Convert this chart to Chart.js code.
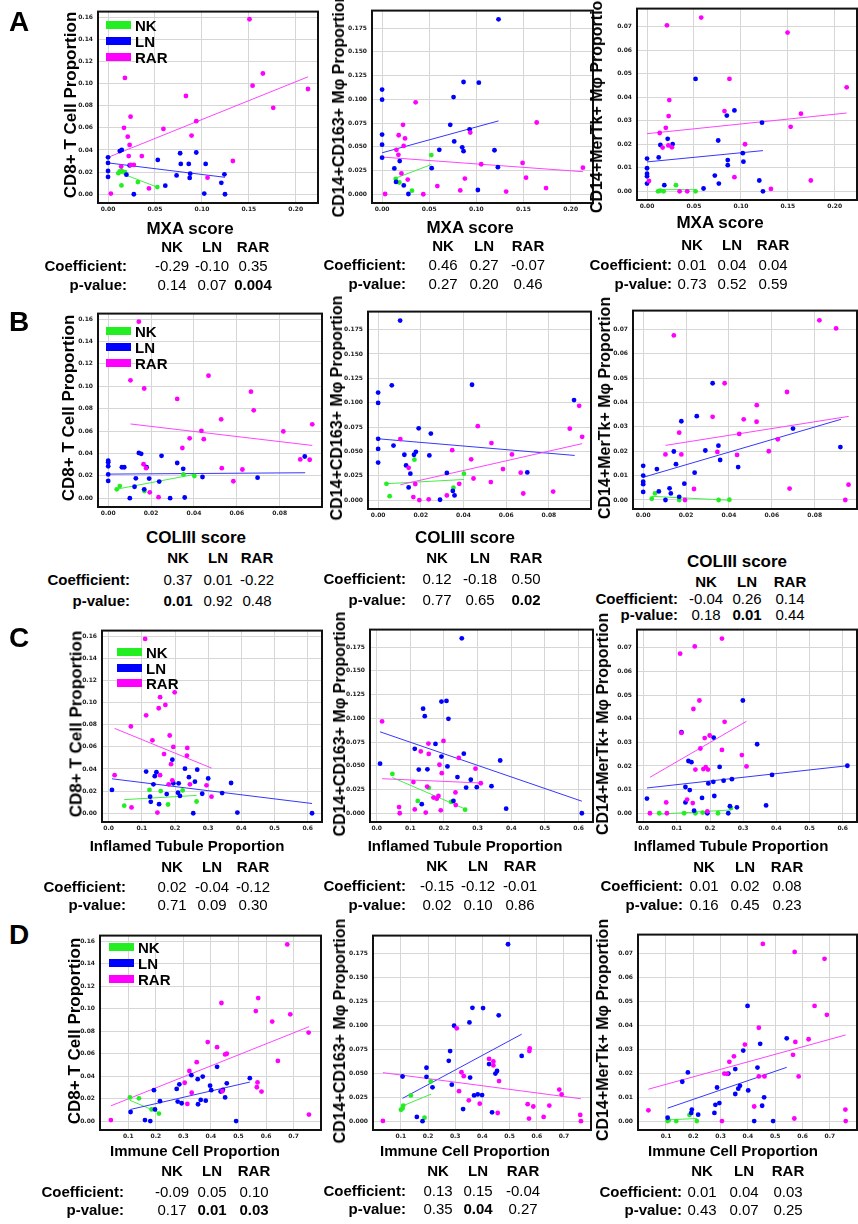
<!DOCTYPE html>
<html><head><meta charset="utf-8">
<script src="https://cdn.jsdelivr.net/npm/chart.js@4.4.1/dist/chart.umd.min.js"></script>
<style>
html,body{margin:0;padding:0;background:#fff;}
#page{position:relative;width:858px;height:1224px;overflow:hidden;background:#fff;font-family:"Liberation Sans",Arial,sans-serif;color:#000;}
canvas{position:absolute;}
.t{position:absolute;white-space:nowrap;line-height:1;}
</style></head><body><div id="page"></div>
<script>
// ---------- tick labels ----------
const xTicksA = ['0.00','0.05','0.10','0.15','0.20'];
const xTicksB = ['0.00','0.02','0.04','0.06','0.08'];
const xTicksC = ['0.0','0.1','0.2','0.3','0.4','0.5','0.6'];
const xTicksD = ['0.1','0.2','0.3','0.4','0.5','0.6','0.7'];
const yTicks1 = ['0.00','0.02','0.04','0.06','0.08','0.10','0.12','0.14','0.16'];
const yTicks2 = ['0.000','0.025','0.050','0.075','0.100','0.125','0.150','0.175'];
const yTicks3 = ['0.00','0.01','0.02','0.03','0.04','0.05','0.06','0.07'];
const groups = ['NK','LN','RAR'];

// ---------- row A : MXA score ----------
const A1_NK = [[0.0125,0.0206],[0.0146,0.021],[0.018,0.020],[0.011,0.019],[0.0143,0.008],[0.0318,0.011],[0.0525,0.0065]];
const A1_LN = [[0,0.0333],[0,0.0283],[0,0.021],[0,0.0156],[0.0125,0.039],[0.0146,0.040],[0.023,0.026],[0.0196,0.0177],[0.0275,0],[0.053,0.031],[0.061,0.0077],[0.0768,0.037],[0.0775,0.0274],[0.086,0.0274],[0.094,0.0377],[0.104,0.0274],[0.073,0.017],[0.0875,0.0186],[0.087,0.0147],[0.1025,0.0006],[0.1207,0.0103],[0.124,0.018],[0.1246,0]];
const A1_RAR = [[0.1507,0.158],[0.165,0.109],[0.154,0.098],[0.176,0.078],[0.018,0.105],[0.083,0.0887],[0.024,0.070],[0.017,0.060],[0.059,0.059],[0.094,0.066],[0.021,0.052],[0.089,0.053],[0.023,0.0445],[0.022,0.0345],[0.036,0.0345],[0.133,0.030],[0.014,0.025],[0.024,0.0265],[0.0275,0.0265],[0.106,0.015],[0.003,0.0006],[0.0436,0.0053],[0.213,0.095]];
const A1_fit = [[0.011,0.020,0.053,0.0062],[0,0.0283,0.1246,0.0153],[0,0.0333,0.213,0.106]];

const A2_NK = [[0.0145,0.0162],[0.0183,0.0124],[0.0317,0.0038],[0.0522,0.0413]];
const A2_LN = [[0.1235,0.1843],[0.0864,0.1183],[0.1026,0.1176],[0,0.1103],[0,0.0997],[0.0758,0.1024],[0.0723,0.0732],[0.0928,0.0684],[0,0.0629],[0,0.0523],[0.0765,0.0557],[0.085,0.0495],[0.0864,0.0454],[0.0607,0.0468],[0.1192,0.0464],[0,0.0385],[0.0187,0.035],[0.013,0.0272],[0.0526,0.0275],[0.1228,0.0285],[0.0148,0.013],[0.023,0.0093],[0.0279,0.0003],[0.1016,0.0045]];
const A2_RAR = [[0.0356,0.0969],[0.0222,0.0732],[0.164,0.0756],[0.0176,0.0622],[0.0243,0.0588],[0.0229,0.0509],[0.0152,0.0468],[0.0173,0.0416],[0.0935,0.065],[0.1051,0.0316],[0.149,0.033],[0.0205,0.022],[0.0272,0.0155],[0.1527,0.0175],[0.0878,0.0165],[0.0586,0.0086],[0.0829,0.0041],[0.1316,0.0028],[0.1739,0.0065],[0.0032,0.0003],[0.0437,0],[0.213,0.028]];
const A2_fit = [[0.0123,0.0162,0.0522,0.0313],[0,0.0437,0.1235,0.0773],[0,0.0392,0.213,0.0238]];

const A3_NK = [[0.0117,0],[0.0142,0.0003],[0.0177,0],[0.0308,0.0026],[0.0517,0]];
const A3_LN = [[0.0517,0.0478],[0.0931,0.0344],[0.085,0.0322],[0.1225,0.0292],[0.022,0.0223],[0.0273,0.0201],[0.0142,0.0197],[0.0758,0.0216],[0.0124,0.0144],[0,0.0139],[0,0.0098],[0,0.0075],[0,0.0064],[0,0.0033],[0.102,0.0162],[0.086,0.0133],[0.086,0.0111],[0.1027,0.0126],[0.0722,0.0067],[0.0765,0.0033],[0.1196,0.0046],[0.0184,0.0026],[0.0602,0.0012],[0.1235,0]];
const A3_RAR = [[0.0577,0.0739],[0.0212,0.0706],[0.1497,0.0675],[0.0878,0.0478],[0.2127,0.0442],[0.0237,0.0388],[0.0825,0.0341],[0.023,0.032],[0.164,0.033],[0.153,0.0274],[0.020,0.027],[0.0135,0.0248],[0.0166,0.0186],[0.0227,0.0195],[0.0265,0.0187],[0.1044,0.020],[0.0931,0.006],[0.1745,0.0046],[0.132,0.001],[0.002,0.0044],[0.0347,0],[0.0428,0]];
const A3_fit = [[0.0117,0.0007,0.0517,0.0007],[0,0.0125,0.1235,0.0173],[0,0.0245,0.2127,0.0333]];

// ---------- row B : COLIII score ----------
const B1_NK = [[0.004,0.0079],[0.0054,0.0108],[0.0169,0.0064],[0.0351,0.0212],[0.0402,0.0198]];
const B1_LN = [[0,0.0335],[0,0.032],[0,0.0285],[0,0.0212],[0,0.0154],[0.0064,0.0276],[0.0075,0.0276],[0.0143,0.0404],[0.0154,0.0396],[0.0179,0.0276],[0.0129,0.0177],[0.0191,0.0175],[0.0123,0.0102],[0.0168,0.0079],[0.0101,0],[0.0249,0.0378],[0.0322,0.0314],[0.035,0.0262],[0.0238,0.0148],[0.044,0.0189],[0.0289,0],[0.0357,0.0006],[0.0697,0.0183],[0.0917,0.0372]];
const B1_RAR = [[0.0143,0.1577],[0.0468,0.1094],[0.0104,0.1053],[0.0168,0.098],[0.0666,0.0951],[0.0322,0.0887],[0.0679,0.0785],[0.0527,0.0704],[0.0435,0.0602],[0.0817,0.0596],[0.0952,0.066],[0.038,0.0535],[0.0446,0.0527],[0.0346,0.0448],[0.0165,0.0303],[0.0177,0.0268],[0.053,0.0268],[0.0626,0.0256],[0.0896,0.0346],[0.094,0.0343],[0.0584,0.0151],[0.0194,0.0052],[0.0235,0.0009]];
const B1_fit = [[0.0036,0.0079,0.0402,0.0212],[0,0.0215,0.0919,0.0227],[0.0104,0.0663,0.0952,0.0471]];

const B2_NK = [[0.0039,0.0167],[0.0054,0.004],[0.017,0.0415],[0.0353,0.0127],[0.0402,0.0271]];
const B2_LN = [[0.0103,0.1843],[0.0064,0.1178],[0.044,0.1184],[0,0.1104],[0,0.0997],[0.019,0.0736],[0.0247,0.0682],[0,0.0629],[0.0072,0.0559],[0,0.0525],[0.0177,0.0495],[0.0168,0.0465],[0.0123,0.0465],[0.024,0.0458],[0,0.0385],[0.0131,0.0355],[0.0151,0.0271],[0.0322,0.0278],[0.0699,0.0284],[0.0143,0.013],[0.035,0.0094],[0.0358,0.0047],[0.029,0.0003],[0.0918,0.1027]];
const B2_RAR = [[0.0467,0.0759],[0.0104,0.0626],[0.0531,0.0585],[0.0898,0.0733],[0.0942,0.0967],[0.0956,0.0649],[0.0347,0.0512],[0.0436,0.0418],[0.0627,0.0468],[0.0585,0.0318],[0.0143,0.0331],[0.0447,0.0221],[0.0528,0.0184],[0.0668,0.0281],[0.0174,0.0164],[0.038,0.0167],[0.068,0.0067],[0.082,0.0087],[0.0165,0.003],[0.0193,0],[0.0237,0.0007],[0.0322,0.0047]];
const B2_fit = [[0.0031,0.0167,0.0402,0.0211],[0,0.0629,0.0921,0.0458],[0.0104,0.0157,0.0956,0.0579]];

const B3_NK = [[0.004,0.0005],[0.0055,0.0027],[0.0168,0],[0.0352,0],[0.0402,0.0001]];
const B3_LN = [[0.0324,0.0479],[0.025,0.0344],[0.0178,0.0323],[0.0699,0.0293],[0.0351,0.0223],[0.029,0.0203],[0.0143,0.0199],[0.092,0.0217],[0.0359,0.0164],[0.0153,0.0147],[0.0443,0.0135],[0,0.014],[0,0.01],[0,0.0075],[0,0.0065],[0,0.0033],[0.0064,0.0127],[0.024,0.0112],[0.0073,0.0035],[0.0123,0.0048],[0.0129,0.0027],[0.0192,0.0067],[0.0168,0.0013],[0.0104,0]];
const B3_RAR = [[0.0822,0.0737],[0.09,0.0704],[0.0143,0.0675],[0.038,0.0479],[0.0671,0.0443],[0.053,0.0389],[0.0324,0.0341],[0.0469,0.0331],[0.0529,0.0321],[0.0168,0.0276],[0.0448,0.0271],[0.0628,0.0249],[0.0104,0.0187],[0.0178,0.0187],[0.0346,0.0197],[0.0438,0.0185],[0.0586,0.02],[0.0237,0.0045],[0.0683,0.0047],[0.0958,0.0063],[0.0943,0],[0.0195,0]];
const B3_fit = [[0.004,0.0015,0.0402,-0.0001],[0,0.0093,0.0923,0.0331],[0.0104,0.0224,0.0959,0.0343]];

// ---------- row C : Inflamed Tubule Proportion ----------
const C1_NK = [[0.047,0.0068],[0.123,0.0211],[0.157,0.02],[0.179,0.0079],[0.223,0.0206],[0.265,0.0106]];
const C1_LN = [[0.192,0.0484],[0.113,0.0376],[0.144,0.037],[0.230,0.0402],[0.267,0.0393],[0.139,0.0335],[0.242,0.0326],[0.300,0.0314],[0.195,0.027],[0.211,0.027],[0.260,0.0285],[0.369,0.0273],[0.135,0.0261],[0.010,0.0211],[0.125,0.015],[0.175,0.0173],[0.209,0.0185],[0.215,0.0156],[0.282,0.0176],[0.342,0.0182],[0.127,0.0103],[0.152,0.0082],[0.255,0],[0.388,0.0006],[0.613,0]];
const C1_RAR = [[0.110,0.1574],[0.199,0.1092],[0.155,0.1048],[0.171,0.0978],[0.151,0.0948],[0.113,0.0884],[0.067,0.0784],[0.184,0.0702],[0.132,0.0658],[0.195,0.0599],[0.237,0.059],[0.236,0.052],[0.167,0.0534],[0.188,0.0443],[0.018,0.0344],[0.155,0.0344],[0.192,0.0297],[0.181,0.0261],[0.245,0.0261],[0.295,0.0252],[0.310,0.015],[0.069,0.0053],[0.147,0.0006]];
const C1_fit = [[0.047,0.0123,0.265,0.0161],[0.010,0.0311,0.613,0.0088],[0.018,0.0766,0.310,0.0408]];

const C2_NK = [[0.0466,0.0415],[0.1547,0.0268],[0.122,0.013],[0.2212,0.012],[0.2628,0.0038]];
const C2_LN = [[0.2529,0.1843],[0.1924,0.1177],[0.2073,0.1184],[0.1379,0.1102],[0.1428,0.1023],[0.2132,0.0995],[0.1131,0.0679],[0.1746,0.0731],[0.2589,0.0628],[0.1924,0.0597],[0.367,0.0556],[0.0099,0.0522],[0.2103,0.0494],[0.125,0.046],[0.1507,0.0463],[0.24,0.0381],[0.2797,0.0353],[0.2658,0.0271],[0.2975,0.0275],[0.3412,0.0285],[0.2281,0.013],[0.1339,0.0096],[0.3848,0.0048],[0.6099,0]];
const C2_RAR = [[0.0159,0.0968],[0.1984,0.0762],[0.1537,0.0734],[0.1309,0.0652],[0.1547,0.0625],[0.244,0.0583],[0.1865,0.0511],[0.2936,0.047],[0.1934,0.0422],[0.1091,0.0329],[0.3094,0.0316],[0.1498,0.0281],[0.2341,0.022],[0.1835,0.0182],[0.1686,0.0165],[0.1785,0.0154],[0.235,0.0086],[0.0664,0.0065],[0.1131,0.0041],[0.1904,0.0031],[0.0684,0],[0.1458,0.0007]];
const C2_fit = [[0.0466,0.0377,0.2628,0.0045],[0.0099,0.0858,0.6099,0.0127],[0.0159,0.0364,0.3094,0.0319]];

const C3_NK = [[0.047,0],[0.122,0],[0.156,0],[0.178,0.0003],[0.224,0],[0.263,0.0022]];
const C3_LN = [[0.299,0.0477],[0.114,0.0343],[0.211,0.032],[0.342,0.0292],[0.135,0.0221],[0.144,0.0216],[0.229,0.0196],[0.614,0.0201],[0.387,0.0162],[0.21,0.0133],[0.241,0.0138],[0.266,0.0144],[0.195,0.0126],[0.126,0.0111],[0.139,0.0098],[0.176,0.0065],[0.213,0.0073],[0.01,0.0062],[0.126,0.0046],[0.26,0.003],[0.281,0.0025],[0.369,0.0033],[0.152,0.0011],[0.192,0],[0.255,0]];
const C3_RAR = [[0.236,0.0739],[0.154,0.0706],[0.11,0.0675],[0.168,0.0477],[0.15,0.0441],[0.244,0.0387],[0.114,0.034],[0.199,0.0329],[0.184,0.0318],[0.171,0.0274],[0.236,0.0268],[0.296,0.0246],[0.156,0.0185],[0.18,0.0187],[0.187,0.0195],[0.194,0.0185],[0.31,0.0198],[0.131,0.0058],[0.068,0.0046],[0.148,0.0043],[0.192,0.0008],[0.019,0],[0.07,0]];
const C3_fit = [[0.047,-0.0004,0.263,0.0014],[0.01,0.0107,0.614,0.0201],[0.019,0.0152,0.31,0.0389]];

// ---------- row D : Immune Cell Proportion ----------
const D1_NK = [[0.1061,0.0211],[0.1388,0.0203],[0.1848,0.0104],[0.2115,0.0067]];
const D1_LN = [[0.4224,0.0483],[0.3291,0.0408],[0.3703,0.0396],[0.3521,0.0373],[0.5412,0.0382],[0.2855,0.0327],[0.4576,0.0336],[0.2758,0.0286],[0.397,0.0315],[0.4012,0.0275],[0.4436,0.0278],[0.4352,0.0263],[0.4515,0.0211],[0.1933,0.0275],[0.2794,0.0174],[0.2939,0.0159],[0.2152,0.0177],[0.363,0.0188],[0.3812,0.0182],[0.3533,0.015],[0.1085,0.0081],[0.197,0.0104],[0.1606,0.0009],[0.18,0],[0.4915,0]];
const D1_RAR = [[0.677,0.1571],[0.5715,0.1094],[0.4382,0.105],[0.563,0.0978],[0.688,0.0949],[0.6224,0.0885],[0.7545,0.0787],[0.3885,0.0703],[0.4224,0.0657],[0.643,0.0535],[0.4515,0.0593],[0.4576,0.0599],[0.3485,0.0524],[0.3218,0.0446],[0.3048,0.0341],[0.5691,0.0344],[0.5667,0.0301],[0.5836,0.0263],[0.4418,0.0266],[0.3303,0.0252],[0.3145,0.0153],[0.7558,0.0058],[0.037,0.0009]];
const D1_fit = [[0.1061,0.0185,0.2115,0.0075],[0.1085,0.0104,0.5412,0.0347],[0.037,0.0136,0.7558,0.0839]];

const D2_NK = [[0.1003,0.0119],[0.1062,0.0133],[0.1087,0.0163],[0.1368,0.0268],[0.187,0.0037],[0.2103,0.0415]];
const D2_LN = [[0.4943,0.1845],[0.3633,0.1182],[0.4024,0.1179],[0.46,0.1104],[0.3523,0.103],[0.2959,0.0996],[0.2812,0.0731],[0.2763,0.0629],[0.5445,0.068],[0.4245,0.0595],[0.1943,0.0557],[0.1062,0.0466],[0.1943,0.0462],[0.3547,0.0455],[0.4478,0.0496],[0.4539,0.0523],[0.2874,0.0381],[0.2164,0.0353],[0.3694,0.0268],[0.3829,0.0279],[0.3988,0.0272],[0.329,0.0126],[0.4355,0.0092],[0.1588,0.0044],[0.1796,0]];
const D2_RAR = [[0.3057,0.0968],[0.5739,0.0758],[0.5727,0.0731],[0.4245,0.0649],[0.4404,0.0622],[0.4404,0.0581],[0.3229,0.051],[0.3315,0.0469],[0.4612,0.0418],[0.314,0.0313],[0.6828,0.033],[0.6914,0.0279],[0.35,0.0217],[0.3902,0.0183],[0.5665,0.0177],[0.5873,0.0153],[0.6461,0.0163],[0.6253,0.0044],[0.5714,0.0027],[0.4563,0.0085],[0.76,0.0065],[0.7625,0],[0.034,0.0003]];
const D2_fit = [[0.1038,0.0156,0.2115,0.0282],[0.1062,0.0238,0.5445,0.0907],[0.034,0.0506,0.7625,0.0234]];

const D3_NK = [[0.106,0],[0.1096,0.0004],[0.1376,0],[0.1862,0.0026],[0.2129,0]];
const D3_LN = [[0.3987,0.048],[0.5421,0.0345],[0.4449,0.0322],[0.3829,0.0294],[0.4351,0.0223],[0.3537,0.0217],[0.1802,0.0203],[0.3284,0.0198],[0.1596,0.0164],[0.287,0.014],[0.3708,0.0147],[0.3647,0.0135],[0.3537,0.0113],[0.4011,0.0128],[0.4594,0.0099],[0.2955,0.0075],[0.2809,0.0068],[0.4521,0.0064],[0.1948,0.0048],[0.1924,0.0034],[0.2179,0.0027],[0.2773,0.0034],[0.106,0.0014],[0.423,0],[0.4923,0]];
const D3_RAR = [[0.4546,0.0738],[0.5712,0.0705],[0.6806,0.0676],[0.6441,0.048],[0.6891,0.0443],[0.44,0.0389],[0.389,0.0319],[0.6223,0.0341],[0.5737,0.033],[0.5652,0.0276],[0.3489,0.027],[0.332,0.0247],[0.3137,0.0198],[0.3234,0.0197],[0.44,0.0186],[0.4607,0.0186],[0.5858,0.0186],[0.423,0.0061],[0.0356,0.0045],[0.757,0.0048],[0.305,0],[0.57,0.0011],[0.7582,0]];
const D3_fit = [[0.106,0.0005,0.2129,0.0011],[0.106,0.0054,0.5421,0.0224],[0.0356,0.0133,0.7582,0.0359]];

// ---------- statistics tables ----------
const coefA1=['-0.29','-0.10','0.35'], pA1=['0.14','0.07','0.004'], sigA1=[0,0,1];
const coefA2=['0.46','0.27','-0.07'],  pA2=['0.27','0.20','0.46'],  sigA2=[0,0,0];
const coefA3=['0.01','0.04','0.04'],   pA3=['0.73','0.52','0.59'],  sigA3=[0,0,0];
const coefB1=['0.37','0.01','-0.22'],  pB1=['0.01','0.92','0.48'],  sigB1=[1,0,0];
const coefB2=['0.12','-0.18','0.50'],  pB2=['0.77','0.65','0.02'],  sigB2=[0,0,1];
const coefB3=['-0.04','0.26','0.14'],  pB3=['0.18','0.01','0.44'],  sigB3=[0,1,0];
const coefC1=['0.02','-0.04','-0.12'], pC1=['0.71','0.09','0.30'],  sigC1=[0,0,0];
const coefC2=['-0.15','-0.12','-0.01'],pC2=['0.02','0.10','0.86'],  sigC2=[0,0,0];
const coefC3=['0.01','0.02','0.08'],   pC3=['0.16','0.45','0.23'],  sigC3=[0,0,0];
const coefD1=['-0.09','0.05','0.10'],  pD1=['0.17','0.01','0.03'],  sigD1=[0,1,1];
const coefD2=['0.13','0.15','-0.04'],  pD2=['0.35','0.04','0.27'],  sigD2=[0,1,0];
const coefD3=['0.01','0.04','0.03'],   pD3=['0.43','0.07','0.25'],  sigD3=[0,0,0];

const yTitles = ['CD8+ T Cell Proportion','CD14+CD163+ M\u03C6 Proportion','CD14+MerTk+ M\u03C6 Proportion'];
const xTitles = ['MXA score','COLIII score','Inflamed Tubule Proportion','Immune Cell Proportion'];

// ---------- drawing ----------
const page = document.getElementById('page');
const COL = {NK:'#22ee22', LN:'#0000ff', RAR:'#ff00ff'};
const LCOL = {NK:'#44ee44', LN:'#3636ff', RAR:'#ff44ff'};
const framePlugin = {id:'frame', afterDraw(c){const a=c.chartArea,x=c.ctx;x.save();x.strokeStyle='#111';x.lineWidth=2;x.strokeRect(a.left,a.top,a.right-a.left,a.bottom-a.top);x.restore();}};

function txt(x,y,s,o){
  o=o||{};
  const d=document.createElement('div'); d.className='t'; d.textContent=s;
  d.style.left=x+'px'; d.style.top=y+'px';
  d.style.fontSize=(o.size||15)+'px'; d.style.fontWeight=o.bold===false?'normal':'bold';
  let tr = o.align==='right' ? 'translate(-100%,-50%)' : 'translate(-50%,-50%)';
  if(o.rot) tr += ' rotate(-90deg)';
  d.style.transform=tr; page.appendChild(d);
}

function panel(p){
  const YW=36, PT=4, PR=3, XH=16;
  const L=Math.round(p.rect[0]), T=Math.round(p.rect[1]), R=Math.round(p.rect[2]), B=Math.round(p.rect[3]);
  const left=L-YW, top=T-PT, w=R-left+PR, h=B-top+XH;
  const cv=document.createElement('canvas'); cv.width=w; cv.height=h;
  cv.style.left=left+'px'; cv.style.top=top+'px'; cv.style.width=w+'px'; cv.style.height=h+'px';
  page.appendChild(cv);
  const ds=[];
  [2,1,0].forEach(i=>{const g=groups[i]; ds.push({data:p.pts[i].map(([x,y])=>({x,y})), backgroundColor:COL[g], borderWidth:0, pointRadius:2.4, pointHoverRadius:2.4});});
  [2,1,0].forEach(i=>{const g=groups[i], l=p.fit[i]; ds.push({data:[{x:l[0],y:l[1]},{x:l[2],y:l[3]}], showLine:true, borderColor:LCOL[g], borderWidth:1, pointRadius:0, fill:false});});
  const tf={family:'"DejaVu Sans", sans-serif', weight:'bold', size:6};
  const grid={color:'#d6d6d6', lineWidth:1, drawTicks:false};
  new Chart(cv,{type:'scatter', data:{datasets:ds}, plugins:[framePlugin], options:{
    responsive:false, animation:false, devicePixelRatio:1,
    layout:{padding:{left:0,top:PT,right:PR,bottom:0}},
    plugins:{legend:{display:false}, tooltip:{enabled:false}},
    scales:{
      x:{type:'linear', min:p.xr[0], max:p.xr[1], afterFit:s=>{s.height=XH;},
         afterBuildTicks:s=>{s.ticks=p.xt.map(v=>({value:+v}));},
         ticks:{callback:(v,i)=>p.xt[i], font:tf, color:'#222', padding:3, maxRotation:0, autoSkip:false},
         grid:grid, border:{display:false}},
      y:{type:'linear', min:p.yr[0], max:p.yr[1], afterFit:s=>{s.width=YW;},
         afterBuildTicks:s=>{s.ticks=p.yt.map(v=>({value:+v}));},
         ticks:{callback:(v,i)=>p.yt[i], font:tf, color:'#222', padding:5, autoSkip:false},
         grid:grid, border:{display:false}}
    }}});
  txt(p.yl[0], p.yl[1], p.ytitle, {size:p.yl[2], rot:true});
  txt(p.xl[0], p.xl[1], p.xtitle, {size:p.xl[2]});
  const tb=p.tb;
  groups.forEach((g,i)=>txt(tb.hx[i], tb.hy, g, {size:15}));
  txt(tb.lr, tb.cy, 'Coefficient:', {size:15, align:'right'});
  txt(tb.lr, tb.py, 'p-value:', {size:15, align:'right'});
  p.coef.forEach((v,i)=>txt(tb.hx[i], tb.cy, v, {size:15, bold:false}));
  p.pv.forEach((v,i)=>txt(tb.hx[i], tb.py, v, {size:15, bold:!!p.sig[i]}));
  if(p.leg){
    const [lx, ly, dy] = p.leg;
    groups.forEach((g,i)=>{
      const b=document.createElement('div'); b.style.position='absolute';
      b.style.left=lx+'px'; b.style.top=(ly+i*dy-4)+'px'; b.style.width='25px'; b.style.height='8px'; b.style.background=COL[g];
      page.appendChild(b);
      const d=document.createElement('div'); d.className='t'; d.textContent=g;
      d.style.left=(lx+29)+'px'; d.style.top=(ly+i*dy)+'px'; d.style.fontSize='15px'; d.style.fontWeight='bold';
      d.style.transform='translateY(-50%)'; page.appendChild(d);
    });
  }
}

const xrA=[-0.0107,0.2237], xrB=[-0.00475,0.09975], xrC=[-0.020,0.643], xrD=[-0.0025,0.7995];
const yr1=[-0.0079,0.1649], yr2=[-0.0092,0.1935], yr3=[-0.0037,0.0777];

const panels = [
 {rect:[98,7,317.5,203], xr:xrA, yr:yr1, xt:xTicksA, yt:yTicks1, pts:[A1_NK,A1_LN,A1_RAR], fit:A1_fit, coef:coefA1, pv:pA1, sig:sigA1,
  ytitle:yTitles[0], xtitle:xTitles[0], yl:[70,104.5,17], xl:[190,228,17], tb:{hx:[172,212,253],hy:246,cy:265,py:284,lr:127}, leg:[106,25,15.8]},
 {rect:[371.6,6.3,592.9,202.9], xr:xrA, yr:yr2, xt:xTicksA, yt:yTicks2, pts:[A2_NK,A2_LN,A2_RAR], fit:A2_fit, coef:coefA2, pv:pA2, sig:sigA2,
  ytitle:yTitles[1], xtitle:xTitles[0], yl:[339,104.5,16], xl:[470,227,17], tb:{hx:[443,484,528],hy:245,cy:264,py:283,lr:406}},
 {rect:[637.2,3.7,856.5,199.6], xr:xrA, yr:yr3, xt:xTicksA, yt:yTicks3, pts:[A3_NK,A3_LN,A3_RAR], fit:A3_fit, coef:coefA3, pv:pA3, sig:sigA3,
  ytitle:yTitles[2], xtitle:xTitles[0], yl:[597,101.5,16], xl:[720,222,17], tb:{hx:[692,732,773],hy:244,cy:264,py:283,lr:672}},
 {rect:[98.1,309.3,322.4,507.4], xr:xrB, yr:yr1, xt:xTicksB, yt:yTicks1, pts:[B1_NK,B1_LN,B1_RAR], fit:B1_fit, coef:coefB1, pv:pB1, sig:sigB1,
  ytitle:yTitles[0], xtitle:xTitles[1], yl:[68,408,17], xl:[196,537,17], tb:{hx:[178,218,257],hy:557,cy:579,py:600,lr:130}, leg:[106,331,15.8]},
 {rect:[367.5,306.6,591.3,508.5], xr:xrB, yr:yr2, xt:xTicksB, yt:yTicks2, pts:[B2_NK,B2_LN,B2_RAR], fit:B2_fit, coef:coefB2, pv:pB2, sig:sigB2,
  ytitle:yTitles[1], xtitle:xTitles[1], yl:[337,407.5,16], xl:[465,537,17], tb:{hx:[437,480,526],hy:557,cy:578,py:599,lr:406}},
 {rect:[633.1,305.8,856.8,509.3], xr:xrB, yr:yr3, xt:xTicksB, yt:yTicks3, pts:[B3_NK,B3_LN,B3_RAR], fit:B3_fit, coef:coefB3, pv:pB3, sig:sigB3,
  ytitle:yTitles[2], xtitle:xTitles[1], yl:[605,407.5,16], xl:[737,561,17], tb:{hx:[706,747,790],hy:581,cy:598,py:614,lr:678}},
 {rect:[101.7,626.1,322.4,822.3], xr:xrC, yr:yr1, xt:xTicksC, yt:yTicks1, pts:[C1_NK,C1_LN,C1_RAR], fit:C1_fit, coef:coefC1, pv:pC1, sig:sigC1,
  ytitle:yTitles[0], xtitle:xTitles[2], yl:[76,724,17], xl:[187,845,15], tb:{hx:[172,212,253],hy:866,cy:886,py:904,lr:126}, leg:[117,652.3,15.5]},
 {rect:[370,625.4,592.7,822.2], xr:xrC, yr:yr2, xt:xTicksC, yt:yTicks2, pts:[C2_NK,C2_LN,C2_RAR], fit:C2_fit, coef:coefC2, pv:pC2, sig:sigC2,
  ytitle:yTitles[1], xtitle:xTitles[2], yl:[340,724,16], xl:[465,845,15], tb:{hx:[437,478,520],hy:865,cy:885,py:904,lr:406}},
 {rect:[637.3,625.4,857,821.6], xr:xrC, yr:yr3, xt:xTicksC, yt:yTicks3, pts:[C3_NK,C3_LN,C3_RAR], fit:C3_fit, coef:coefC3, pv:pC3, sig:sigC3,
  ytitle:yTitles[2], xtitle:xTitles[2], yl:[603,723.5,16], xl:[731,845,15], tb:{hx:[704,745,787],hy:866,cy:885,py:904,lr:683}},
 {rect:[100.1,931,320.7,1130.1], xr:xrD, yr:yr1, xt:xTicksD, yt:yTicks1, pts:[D1_NK,D1_LN,D1_RAR], fit:D1_fit, coef:coefD1, pv:pD1, sig:sigD1,
  ytitle:yTitles[0], xtitle:xTitles[3], yl:[74,1030.5,17], xl:[195,1150,15], tb:{hx:[172,212,254],hy:1170,cy:1191,py:1209,lr:124}, leg:[109,946.7,16.1]},
 {rect:[372.8,931.2,591,1130], xr:xrD, yr:yr2, xt:xTicksD, yt:yTicks2, pts:[D2_NK,D2_LN,D2_RAR], fit:D2_fit, coef:coefD2, pv:pD2, sig:sigD2,
  ytitle:yTitles[1], xtitle:xTitles[3], yl:[340,1030.5,16], xl:[465,1150,15], tb:{hx:[438,478,523],hy:1170,cy:1190,py:1208,lr:406}},
 {rect:[637.8,930.4,857,1130.1], xr:xrD, yr:yr3, xt:xTicksD, yt:yTicks3, pts:[D3_NK,D3_LN,D3_RAR], fit:D3_fit, coef:coefD3, pv:pD3, sig:sigD3,
  ytitle:yTitles[2], xtitle:xTitles[3], yl:[603,1030,16], xl:[733,1150,15], tb:{hx:[702,744,788],hy:1170,cy:1191,py:1209,lr:682}}
];
panels.forEach(panel);

txt(19,22,'A',{size:28}); txt(19,322,'B',{size:28}); txt(19,638,'C',{size:28}); txt(19,935,'D',{size:28});
</script></body></html>
